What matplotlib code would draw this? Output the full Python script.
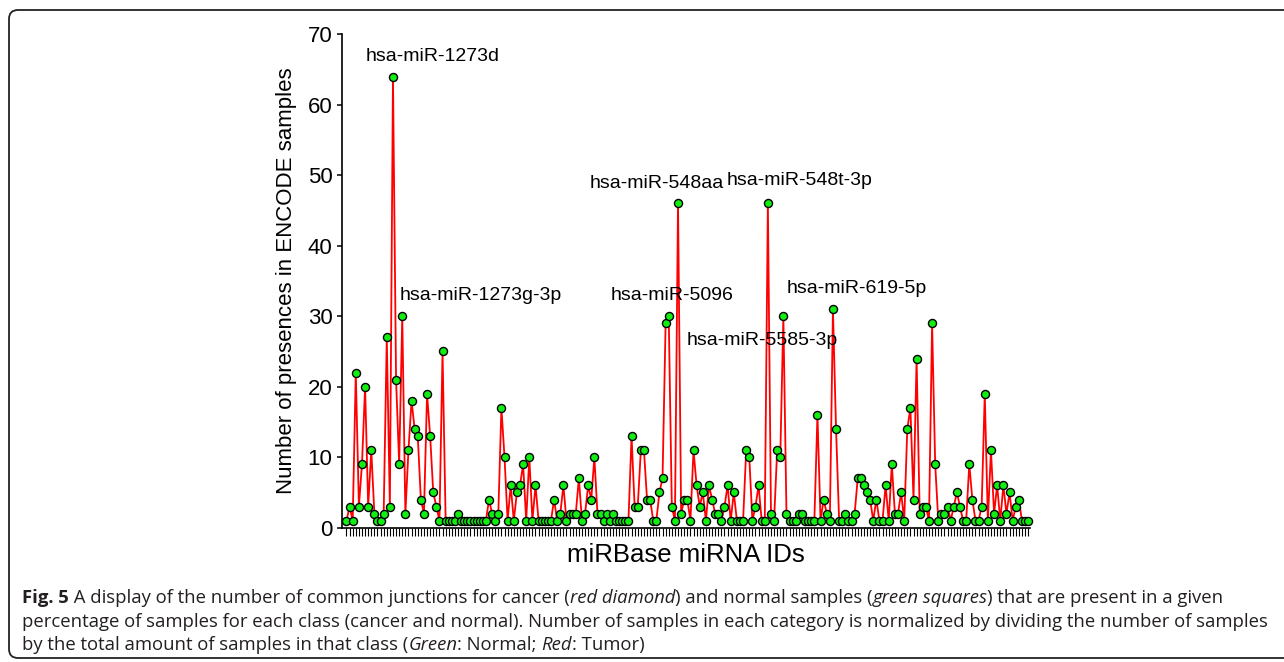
import matplotlib
matplotlib.use("Agg")
import matplotlib.pyplot as plt
import matplotlib.patches as mpatches
from matplotlib.transforms import IdentityTransform

# number of presences per miRNA (left to right)
counts = [1, 3, 1, 22, 3, 9, 20, 3, 11, 2,
          1, 1, 2, 27, 3, 64, 21, 9, 30, 2,
          11, 18, 14, 13, 4, 2, 19, 13, 5, 3,
          1, 25, 1, 1, 1, 1, 2, 1, 1, 1,
          1, 1, 1, 1, 1, 1, 4, 2, 1, 2,
          17, 10, 1, 6, 1, 5, 6, 9, 1, 10,
          1, 6, 1, 1, 1, 1, 1, 4, 1, 2,
          6, 1, 2, 2, 2, 7, 1, 2, 6, 4,
          10, 2, 2, 1, 2, 1, 2, 1, 1, 1,
          1, 1, 13, 3, 3, 11, 11, 4, 4, 1,
          1, 5, 7, 29, 30, 3, 1, 46, 2, 4,
          4, 1, 11, 6, 3, 5, 1, 6, 4, 2,
          2, 1, 3, 6, 1, 5, 1, 1, 1, 11,
          10, 1, 3, 6, 1, 1, 46, 2, 1, 11,
          10, 30, 2, 1, 1, 1, 2, 2, 1, 1,
          1, 1, 16, 1, 4, 2, 1, 31, 14, 1,
          1, 2, 1, 1, 2, 7, 7, 6, 5, 4,
          1, 4, 1, 1, 6, 1, 9, 2, 2, 5,
          1, 14, 17, 4, 24, 2, 3, 3, 1, 29,
          9, 1, 2, 2, 3, 1, 3, 5, 3, 1,
          1, 9, 4, 1, 1, 3, 19, 1, 11, 2,
          6, 1, 6, 2, 5, 1, 3, 4, 1, 1,
          1]
ids = list(range(len(counts)))

# labelled peaks: name, text x (miRNA index), text y
peak_names = ["hsa-miR-1273d", "hsa-miR-1273g-3p", "hsa-miR-548aa", "hsa-miR-548t-3p",
              "hsa-miR-5096", "hsa-miR-5585-3p", "hsa-miR-619-5p"]
peak_x = [6.3, 17.0, 78.6, 122.8, 85.1, 109.9, 142.2]
peak_y = [66.9, 32.9, 48.9, 49.2, 32.9, 26.6, 34.0]

W, H = 1284, 662
fig = plt.figure(figsize=(W / 100, H / 100), dpi=100)
ax = fig.add_axes([342 / W, 1 - 527.7 / H, (1030 - 342) / W, (527.7 - 34.3) / H])

ax.plot(ids, counts, color="#ff0000", lw=1.3, marker="o", ms=5.8,
        mfc="#11ee11", mec="black", mew=1.0, clip_on=False, zorder=3)

for name, tx, ty in zip(peak_names, peak_x, peak_y):
    ax.text(tx, ty, name, fontsize=14, family="Liberation Sans", ha="left", va="center")

ax.set_xlim(-1.45, 220.6)
ax.set_ylim(0, 70)
ax.set_yticks(range(0, 71, 10))
ax.set_xticks(ids)
ax.set_xticklabels([])
for s in ["top", "right"]:
    ax.spines[s].set_visible(False)
for s in ["left", "bottom"]:
    ax.spines[s].set_linewidth(1.2)
ax.tick_params(axis="y", length=3.8, width=1.1, pad=3, labelsize=16)
ax.tick_params(axis="x", length=5.5, width=0.8)
for lab in ax.get_yticklabels():
    lab.set_family("Liberation Sans")
ax.set_ylabel("Number of presences in ENCODE samples", fontsize=16,
              family="Liberation Sans", labelpad=8)
ax.set_xlabel("miRBase miRNA IDs", fontsize=18.5, family="Liberation Sans", labelpad=2)

# rounded frame around figure + caption
frame = mpatches.FancyBboxPatch((9, H - 658), 1320, 648,
                                boxstyle="round,pad=0,rounding_size=9",
                                transform=IdentityTransform(), fill=False,
                                ec="#222222", lw=1.3)
fig.add_artist(frame)

renderer = fig.canvas.get_renderer()
cap_size = 13.3
cap_col = "#231f20"


def piece_width(txt, **kw):
    t1 = fig.text(0, 0, "|" + txt + "|", fontsize=cap_size, family="Open Sans", **kw)
    t2 = fig.text(0, 0, "||", fontsize=cap_size, family="Open Sans", **kw)
    w = t1.get_window_extent(renderer).width - t2.get_window_extent(renderer).width
    t1.remove()
    t2.remove()
    return w


def caption_line(x, y, parts):
    for txt, kw in parts:
        fig.text(x / W, 1 - y / H, txt, fontsize=cap_size, family="Open Sans",
                 color=cap_col, va="baseline", ha="left", **kw)
        x += piece_width(txt, **kw)


normal = {}
bold = {"weight": "bold"}
ital = {"style": "italic"}
caption_line(22, 603, [("Fig. 5", bold),
                       (" A display of the number of common junctions for cancer (", normal),
                       ("red diamond", ital),
                       (") and normal samples (", normal),
                       ("green squares", ital),
                       (") that are present in a given", normal)])
caption_line(22, 627, [("percentage of samples for each class (cancer and normal). Number of samples "
                        "in each category is normalized by dividing the number of samples", normal)])
caption_line(22, 650, [("by the total amount of samples in that class (", normal),
                       ("Green", ital), (": Normal; ", normal),
                       ("Red", ital), (": Tumor)", normal)])

fig.savefig("out.png", dpi=100)
